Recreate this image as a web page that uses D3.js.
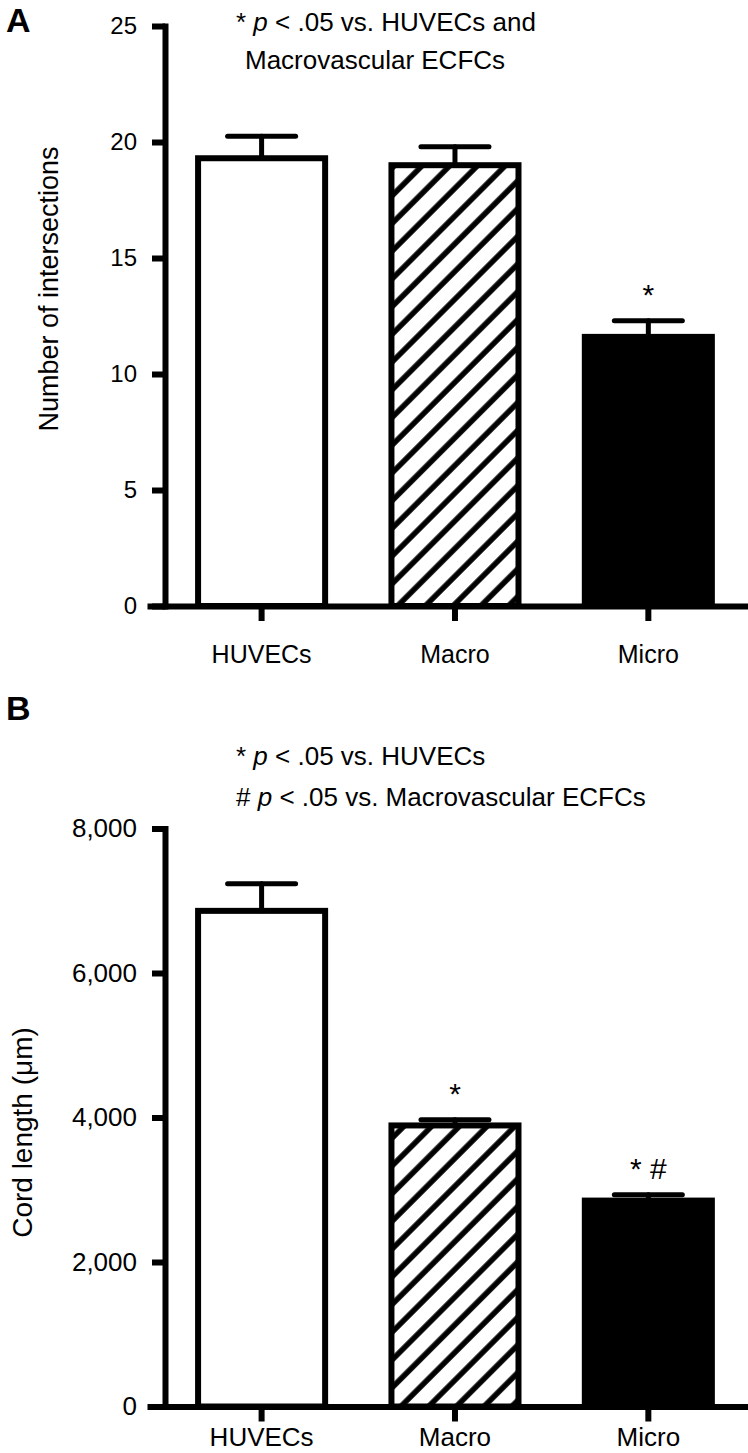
<!DOCTYPE html>
<html>
<head>
<meta charset="utf-8">
<style>
  body { margin: 0; background: #fff; }
  svg { display: block; font-family: "Liberation Sans", Arial, Helvetica, sans-serif; }
</style>
</head>
<body>
<svg id="chart" width="748" height="1453"></svg>
<script src="https://d3js.org/d3.v7.min.js"></script>
<script>
// data
const groups = ["HUVECs", "Macro", "Micro"];
const intersections = [19.3, 19.0, 11.6];
const intersectionsSem = [0.95, 0.8, 0.7];
const intersectionTicks = [0, 5, 10, 15, 20, 25];
const intersectionMarks = ["", "", "*"];

const cordLength = [6860, 3890, 2850];
const cordLengthSem = [375, 80, 80];
const cordTicks = [0, 2000, 4000, 6000, 8000];
const cordMarks = ["", "*", "* #"];

const svg = d3.select("#chart");
const fills = ["#fff", "url(#hatch)", "#000"];

// diagonal hatch for the macro bars
svg.append("defs").append("pattern")
  .attr("id", "hatch")
  .attr("patternUnits", "userSpaceOnUse")
  .attr("width", 19.6).attr("height", 19.6)
  .attr("patternTransform", "rotate(45)")
  .call(p => {
    p.append("rect").attr("width", 19.6).attr("height", 19.6).attr("fill", "#fff");
    p.append("line").attr("x1", 4).attr("x2", 4).attr("y1", 0).attr("y2", 19.6)
      .attr("stroke", "#000").attr("stroke-width", 5.5);
  });

function drawPanel(cfg) {
  const g = svg.append("g");

  const x = d3.scaleBand()
    .domain(groups)
    .range([150, 745])
    .paddingInner(0.343)
    .paddingOuter(0.21)
    .align(0.592);

  const y = d3.scaleLinear()
    .domain([0, cfg.ticks[cfg.ticks.length - 1]])
    .range([cfg.y0, cfg.y1]);

  const rows = groups.map((k, i) => ({ k, v: cfg.values[i], e: cfg.sem[i], m: cfg.marks[i], f: fills[i] }));

  // bars
  g.selectAll("rect.bar")
    .data(rows)
    .join("rect")
    .attr("class", "bar")
    .attr("x", d => x(d.k))
    .attr("width", x.bandwidth())
    .attr("y", d => y(d.v))
    .attr("height", d => y(0) - y(d.v))
    .attr("fill", d => d.f)
    .attr("stroke", "#000")
    .attr("stroke-width", 6);

  // upper error bars
  const eb = g.selectAll("g.err").data(rows).join("g").attr("class", "err")
    .attr("stroke", "#000").attr("stroke-width", 5).attr("stroke-linecap", "round");
  eb.append("line")
    .attr("x1", d => x(d.k) + x.bandwidth() / 2)
    .attr("x2", d => x(d.k) + x.bandwidth() / 2)
    .attr("y1", d => y(d.v))
    .attr("y2", d => y(d.v + d.e));
  eb.append("line")
    .attr("x1", d => x(d.k) + x.bandwidth() / 2 - 34)
    .attr("x2", d => x(d.k) + x.bandwidth() / 2 + 34)
    .attr("y1", d => y(d.v + d.e))
    .attr("y2", d => y(d.v + d.e));

  // significance marks
  g.selectAll("text.mark")
    .data(rows.filter(d => d.m))
    .join("text")
    .attr("class", "mark")
    .attr("x", d => x(d.k) + x.bandwidth() / 2)
    .attr("y", d => y(d.v + d.e) - 16)
    .attr("text-anchor", "middle")
    .attr("font-size", 30)
    .text(d => d.m);

  // axes
  const yAxis = g.append("g")
    .attr("transform", "translate(165,0)")
    .call(d3.axisLeft(y).tickValues(cfg.ticks).tickSize(13).tickSizeOuter(0)
      .tickPadding(15).tickFormat(cfg.fmt));
  const xAxis = g.append("g")
    .attr("transform", `translate(0,${cfg.y0})`)
    .call(d3.axisBottom(x).tickSize(15).tickSizeOuter(0).tickPadding(cfg.xPad));

  [yAxis, xAxis].forEach(a => {
    a.select(".domain").attr("stroke", "#000").attr("stroke-width", 6).attr("stroke-linecap", "square");
    a.selectAll(".tick line").attr("stroke", "#000").attr("stroke-width", 6);
    a.selectAll(".tick text").attr("fill", "#000").attr("font-family", null);
  });
  yAxis.attr("font-size", cfg.tickFont);
  xAxis.attr("font-size", cfg.xFont);

  // axis title
  g.append("text")
    .attr("transform", `translate(${cfg.titleX},${(cfg.y0 + cfg.y1) / 2 - cfg.titleShift}) rotate(-90)`)
    .attr("text-anchor", "middle")
    .attr("font-size", cfg.titleFont)
    .text(cfg.title);

  // panel letter
  g.append("text")
    .attr("x", 6).attr("y", cfg.letterY)
    .attr("font-size", 34).attr("font-weight", "bold")
    .text(cfg.letter);

  // annotation lines
  cfg.notes.forEach(n => {
    const t = g.append("text").attr("x", n.x).attr("y", n.y).attr("font-size", 26);
    if (n.sym) {
      t.append("tspan").text(n.sym + " ");
      t.append("tspan").attr("font-style", "italic").text("p");
    }
    t.append("tspan").text(n.text);
  });
}

drawPanel({
  values: intersections, sem: intersectionsSem, marks: intersectionMarks,
  ticks: intersectionTicks, fmt: d3.format("d"),
  y0: 606, y1: 26, tickFont: 24, xFont: 25, xPad: 24,
  title: "Number of intersections", titleX: 58, titleFont: 27, titleShift: 27,
  letter: "A", letterY: 32,
  notes: [
    { x: 236, y: 31, sym: "*", text: " < .05 vs. HUVECs and" },
    { x: 245, y: 69, text: "Macrovascular ECFCs" }
  ]
});

drawPanel({
  values: cordLength, sem: cordLengthSem, marks: cordMarks,
  ticks: cordTicks, fmt: d3.format(","),
  y0: 1406.5, y1: 828.5, tickFont: 26, xFont: 26, xPad: 6,
  title: "Cord length (\u03bcm)", titleX: 32, titleFont: 28, titleShift: -15,
  letter: "B", letterY: 720,
  notes: [
    { x: 236, y: 765, sym: "*", text: " < .05 vs. HUVECs" },
    { x: 236, y: 806, sym: "#", text: " < .05 vs. Macrovascular ECFCs" }
  ]
});
</script>
</body>
</html>
